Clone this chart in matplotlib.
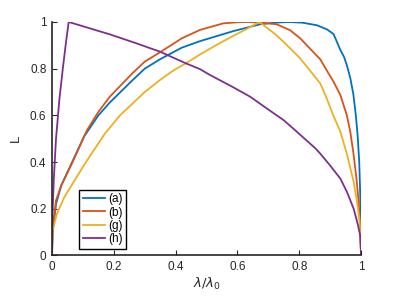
import matplotlib
matplotlib.use("Agg")
import matplotlib.pyplot as plt

plt.rcParams['font.family'] = ['Liberation Sans', 'DejaVu Sans']
plt.rcParams['mathtext.fontset'] = 'dejavusans'

# curve data
xa = [0, 0.002, 0.013, 0.03, 0.06, 0.104, 0.15, 0.187, 0.26, 0.3, 0.349, 0.42, 0.479, 0.587,
      0.673, 0.72, 0.765, 0.81, 0.857, 0.89, 0.911, 0.933, 0.945, 0.955, 0.965, 0.975, 0.983,
      0.989, 0.994, 0.997, 0.999, 1]
ya = [0, 0.1, 0.22, 0.3, 0.385, 0.51, 0.6, 0.655, 0.75, 0.8, 0.84, 0.89, 0.918, 0.961,
      0.99, 0.997, 1.0, 0.997, 0.986, 0.968, 0.948, 0.88, 0.85, 0.81, 0.76, 0.69, 0.6,
      0.51, 0.4, 0.27, 0.15, 0]

xb = [0, 0.002, 0.013, 0.03, 0.064, 0.113, 0.15, 0.187, 0.26, 0.3, 0.349, 0.42, 0.479, 0.554,
      0.6, 0.635, 0.68, 0.727, 0.77, 0.803, 0.868, 0.89, 0.911, 0.933, 0.954, 0.965, 0.975,
      0.985, 0.992, 0.997, 1]
yb = [0, 0.11, 0.236, 0.3, 0.393, 0.536, 0.615, 0.68, 0.78, 0.83, 0.87, 0.93, 0.966, 0.994,
      0.999, 1.0, 0.997, 0.99, 0.965, 0.93, 0.84, 0.79, 0.744, 0.687, 0.6, 0.53, 0.44,
      0.33, 0.23, 0.12, 0]

xg = [0, 0.002, 0.016, 0.04, 0.105, 0.17, 0.22, 0.26, 0.3, 0.349, 0.39, 0.433, 0.479, 0.53,
      0.587, 0.63, 0.671, 0.72, 0.749, 0.803, 0.868, 0.889, 0.91, 0.933, 0.955, 0.976, 0.988,
      0.995, 1]
yg = [0, 0.107, 0.179, 0.25, 0.39, 0.52, 0.6, 0.65, 0.7, 0.751, 0.79, 0.823, 0.861, 0.9,
      0.941, 0.97, 1.0, 0.95, 0.915, 0.844, 0.737, 0.672, 0.6, 0.53, 0.43, 0.315, 0.22,
      0.15, 0]

xh = [0, 0.002, 0.006, 0.013, 0.024, 0.035, 0.045, 0.054, 0.187, 0.27, 0.349, 0.433, 0.479,
      0.511, 0.58, 0.641, 0.7, 0.749, 0.787, 0.852, 0.868, 0.9, 0.933, 0.955, 0.976, 0.99,
      0.997, 1]
yh = [0, 0.19, 0.33, 0.5, 0.67, 0.8, 0.91, 1.0, 0.947, 0.91, 0.873, 0.823, 0.798,
      0.773, 0.725, 0.68, 0.625, 0.58, 0.536, 0.459, 0.436, 0.385, 0.329, 0.27, 0.2, 0.13,
      0.086, 0]

labels = ['(a)', '(b)', '(g)', '(h)']
colors = ['#0072BD', '#D95319', '#EDB120', '#7E2F8E']

fig = plt.figure(figsize=(3.99, 2.99), dpi=100)
ax = fig.add_axes([0.1303, 0.1455, 0.7747, 0.781])

for xs, ys, lab, c in zip([xa, xb, xg, xh], [ya, yb, yg, yh], labels, colors):
    ax.plot(xs, ys, color=c, lw=1.3, label=lab)

ax.set_xlim(0, 1)
ax.set_ylim(0, 1)
ax.set_xticks([0, 0.2, 0.4, 0.6, 0.8, 1])
ax.set_xticklabels(['0', '0.2', '0.4', '0.6', '0.8', '1'])
ax.set_yticks([0, 0.2, 0.4, 0.6, 0.8, 1])
ax.set_yticklabels(['0', '0.2', '0.4', '0.6', '0.8', '1'])

gray = '#262626'
for s in ['top', 'right']:
    ax.spines[s].set_visible(False)
for s in ['left', 'bottom']:
    ax.spines[s].set_color(gray)
    ax.spines[s].set_linewidth(1.2)
ax.tick_params(direction='in', length=3.5, width=0.8, colors=gray, labelsize=8.5, pad=4)

ax.set_xlabel(r'$\lambda/\lambda_0$', fontsize=9.5, color=gray, labelpad=2)
ax.set_ylabel('L', fontsize=9.5, color=gray, labelpad=6)

leg = ax.legend(loc='lower left', bbox_to_anchor=(0.088, 0.028), fontsize=8.5,
                handlelength=1.9, handletextpad=0.25, borderpad=0.3, labelspacing=0.12,
                borderaxespad=0, fancybox=False, framealpha=1)
leg.get_frame().set_edgecolor('black')
leg.get_frame().set_linewidth(1.0)

fig.savefig('out.png', dpi=100)
